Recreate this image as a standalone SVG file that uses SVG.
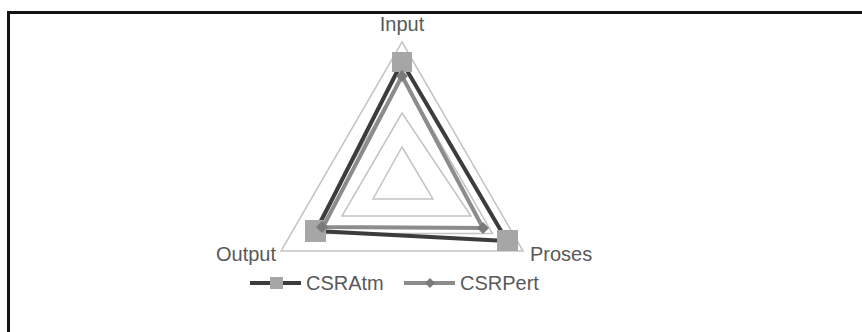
<svg xmlns="http://www.w3.org/2000/svg" width="862" height="332" viewBox="0 0 862 332">
<style>
.grid{fill:none;stroke:#c4c4c4;stroke-width:1.5}
.atm{fill:none;stroke:#3c3c3c;stroke-width:4;stroke-linejoin:round}
.pert{fill:none;stroke:#8c8c8c;stroke-width:4;stroke-linejoin:round}
.sq{fill:#a6a6a6}
.dm{fill:#7a7a7a}
.lbl{font-family:"Liberation Sans",Arial,sans-serif;font-size:20px;fill:#595959}
</style>
<rect width="862" height="332" fill="#ffffff"/>
<path d="M8.5,332 V12.5 H862" fill="none" stroke="#141414" stroke-width="3"/>
<g id="grid">
<polygon class="grid" points="402,42 523,251 281,251"/>
<polygon class="grid" points="402,77 492.5,233.5 311.5,233.5"/>
<polygon class="grid" points="402,113 471,216 342,216"/>
<polygon class="grid" points="402,147 433,199 373,199"/>
</g>
<g id="series-csratm">
<polygon class="atm" points="402,62 507,241 316,231"/>
<rect class="sq" x="392" y="52" width="20" height="20"/>
<rect class="sq" x="497" y="230" width="21" height="21"/>
<rect class="sq" x="305" y="220" width="21" height="22"/>
</g>
<g id="series-csrpert">
<polygon class="pert" points="402,76 483,228 323,227"/>
<polygon class="dm" points="402,70 408,76 402,82 396,76"/>
<polygon class="dm" points="483,222 489,228 483,234 477,228"/>
<polygon class="dm" points="322,221 328,227 322,233 316,227"/>
</g>
<g id="axis-labels">
<text class="lbl" x="402" y="31" text-anchor="middle">Input</text>
<text class="lbl" x="530" y="261">Proses</text>
<text class="lbl" x="276" y="261" text-anchor="end">Output</text>
</g>
<g id="legend">
<line x1="250" y1="283" x2="301" y2="283" stroke="#3c3c3c" stroke-width="4"/>
<rect class="sq" x="270" y="277" width="13" height="12"/>
<text class="lbl" x="306" y="290">CSRAtm</text>
<line x1="404" y1="283" x2="455" y2="283" stroke="#8c8c8c" stroke-width="4"/>
<polygon class="dm" points="430,278 435,283 430,288 425,283"/>
<text class="lbl" x="460" y="290">CSRPert</text>
</g>
</svg>
